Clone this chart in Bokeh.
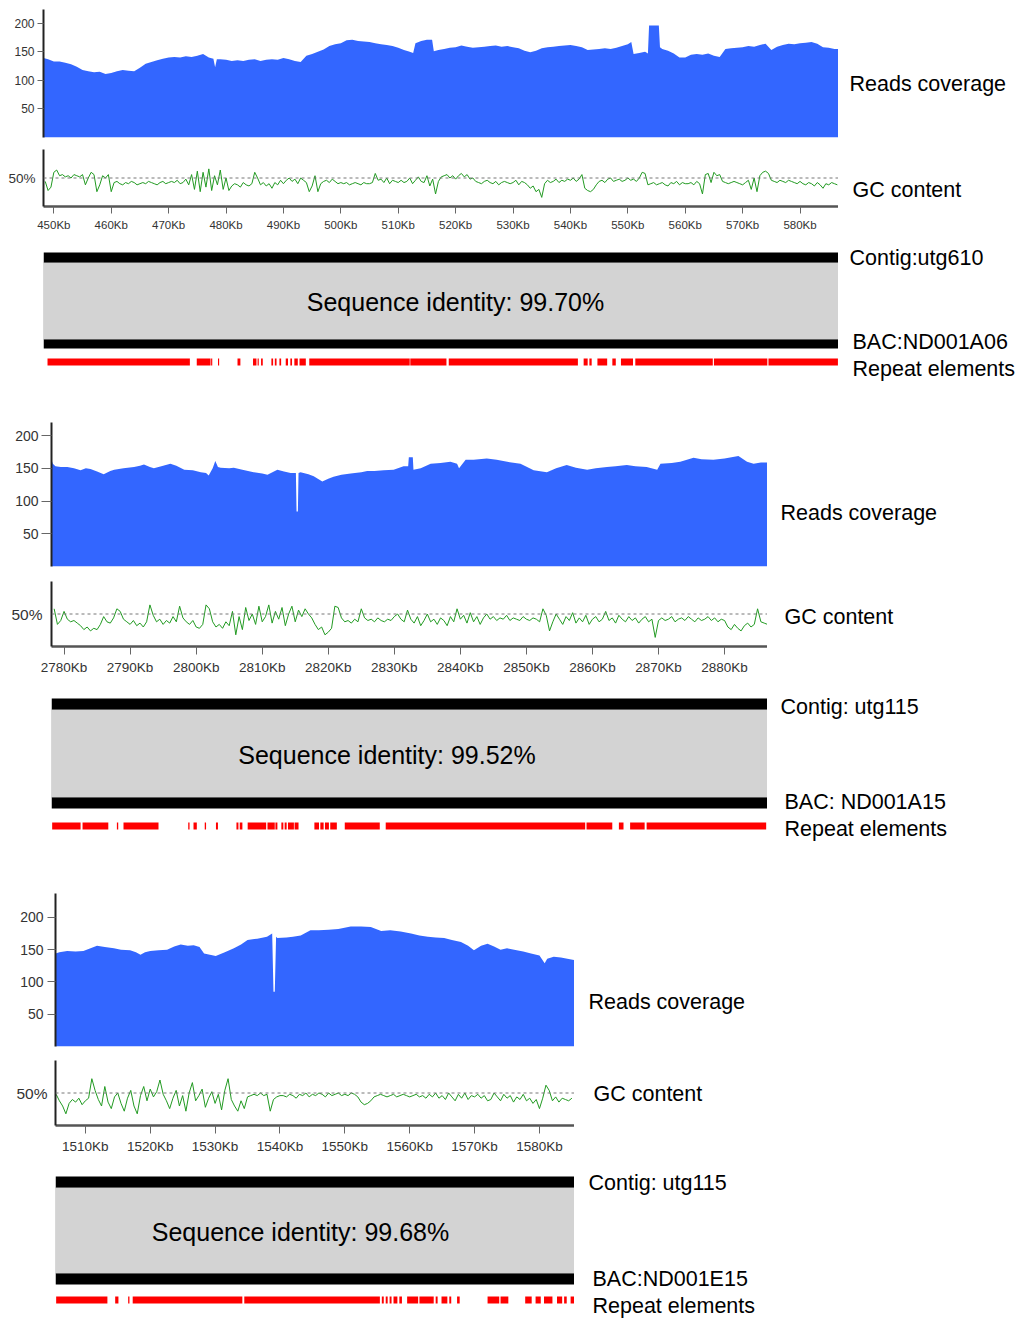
import numpy as np
from bokeh.plotting import figure
from bokeh.layouts import column, row
from bokeh.models import Range1d, FixedTicker, Span, Label
from bokeh.embed import file_html
from bokeh.resources import INLINE

FONT = "Liberation Sans"
PAGE_W = 1019
COV_BLUE = "#3366ff"
GC_GREEN = "#229a22"
REPEAT_RED = "#ff0000"
BLOCK_GREY = "#d3d3d3"

cov_ticks = [50, 100, 150, 200]

# ---------------------------------------------------------------------------
# Region 1: contig utg610 against BAC ND001A06 (positions in Kb)
# ---------------------------------------------------------------------------
cov1_kb = [448.2, 449, 450, 451, 452, 453, 454, 455, 456, 457,
           458, 459, 460, 461, 462, 463, 464, 465, 466, 467,
           468, 469, 470, 471, 472, 473, 474, 475, 476, 477,
           477.8, 478.1, 478.4, 479, 480, 481, 482, 483, 484, 485,
           486, 487, 488, 489, 490, 491, 492, 493, 494, 495,
           496, 497, 498, 499, 500, 501, 502, 503, 504, 505,
           506, 507, 508, 509, 510, 511, 512, 512.6, 513, 514,
           515, 515.9, 516.2, 517, 518, 519, 520, 521, 522, 523,
           524, 525, 526, 527, 528, 529, 530, 531, 532, 533,
           534, 535, 536, 537, 538, 539, 540, 541, 542, 543,
           544, 545, 546, 547, 548, 549, 550, 550.6, 551, 552,
           553, 553.5, 553.7, 555.4, 555.6, 556, 557, 558, 559, 560,
           561, 562, 563, 564, 565, 566, 567, 568, 569, 570,
           571, 572, 573, 574, 575, 576, 577, 578, 579, 580,
           581, 582, 583, 584, 585, 586, 586.7]
cov1_depth = [139, 137, 133, 133, 131, 128, 124, 118, 116, 114,
              115, 111, 113, 116, 118, 117, 116, 122, 129, 132,
              135, 138, 140, 141, 140, 142, 141, 143, 146, 140,
              138, 123, 137, 137, 136, 134, 135, 134, 136, 137,
              134, 136, 137, 136, 139, 137, 134, 132, 143, 146,
              150, 154, 160, 163, 165, 170, 171, 169, 168, 167,
              165, 163, 162, 160, 157, 153, 150, 148, 165, 169,
              171, 171, 151, 153, 155, 157, 158, 161, 159, 157,
              158, 159, 160, 161, 159, 160, 158, 156, 152, 149,
              152, 156, 158, 159, 160, 161, 162, 160, 158, 153,
              154, 155, 156, 155, 157, 160, 163, 167, 146, 148,
              150, 147, 196, 196, 158, 155, 152, 147, 140, 140,
              145, 146, 145, 147, 143, 141, 155, 156, 157, 158,
              160, 159, 162, 164, 153, 159, 162, 164, 163, 165,
              166, 167, 164, 158, 157, 155, 155]

gc1_first_kb, gc1_window_kb = 448.5, 0.5
gc1_pct = [47, 39, 42, 55,
           57, 52, 53, 51, 52, 50, 53, 52, 51, 53, 44, 50, 55, 53, 38, 44, 52, 50, 53, 38,
           46, 47, 45, 44, 46, 45, 47, 46, 44, 45, 46, 45, 47, 46, 45, 44, 46, 47, 45, 46,
           47, 46, 48, 45, 46, 49, 44, 53, 40, 56, 38, 55, 42, 58, 39, 52, 44, 57, 40, 50,
           39, 43, 45, 44, 42, 46, 44, 43, 45, 55, 50, 44, 46, 43, 45, 41, 46, 44, 48, 45,
           48, 50, 47, 49, 45, 50, 48, 46, 38, 43, 52, 38, 45, 47, 48, 46, 49, 47, 45, 46,
           45, 46, 44, 45, 46, 45, 44, 46, 45, 45, 46, 54, 48, 49, 46, 50, 45, 48, 47, 46,
           48, 46, 47, 50, 45, 48, 51, 47, 46, 52, 43, 49, 36, 47, 51, 52, 53, 50, 52, 49,
           52, 54, 51, 53, 49, 50, 47, 46, 45, 47, 48, 46, 45, 47, 44, 46, 47, 46, 45, 46,
           48, 44, 47, 46, 44, 41, 43, 38, 40, 33, 45, 48, 46, 47, 49, 46, 48, 47, 49, 48,
           50, 47, 49, 53, 41, 39, 38, 40, 44, 47, 48, 46, 49, 50, 47, 48, 49, 47, 48, 50,
           48, 49, 47, 50, 55, 54, 44, 45, 46, 44, 45, 46, 44, 43, 46, 45, 47, 44, 46, 45,
           45, 46, 44, 47, 45, 36, 53, 54, 46, 55, 52, 53, 47, 46, 45, 46, 47, 46, 45, 44,
           46, 48, 40, 50, 38, 52, 55, 56, 54, 48, 47, 46, 48, 47, 46, 48, 47, 46, 45, 47,
           45, 44, 46, 45, 43, 46, 44, 41, 45, 44, 46, 45, 44]

ticks1_kb = [450, 460, 470, 480, 490, 500, 510, 520, 530, 540, 550, 560, 570, 580]
ticks1_lbl = ["450Kb", "460Kb", "470Kb", "480Kb", "490Kb", "500Kb", "510Kb",
              "520Kb", "530Kb", "540Kb", "550Kb", "560Kb", "570Kb", "580Kb"]

rep1_start = [448.9, 474.9, 477.4, 478.6, 482.0, 484.7, 485.5, 486.1, 487.9, 488.5,
              489.3, 490.4, 491.2, 491.9, 492.8, 494.5, 512.1, 518.8, 542.3, 543.3,
              544.7, 547.3, 548.8, 551.3, 565.0, 574.5]
rep1_end = [473.7, 477.3, 477.6, 478.8, 482.5, 485.3, 485.7, 486.4, 488.2, 488.8,
            489.6, 490.8, 491.5, 492.5, 493.9, 512.0, 518.4, 541.3, 543.0, 543.7,
            546.4, 547.9, 550.9, 564.8, 574.3, 586.6]

# ---------------------------------------------------------------------------
# Region 2: contig utg115 against BAC ND001A15
# ---------------------------------------------------------------------------
cov2_kb = [2778.1, 2778.3, 2778.7, 2779.5, 2780.5, 2781.5, 2782.5, 2783.3, 2784, 2785,
           2786, 2787, 2787.6, 2789, 2790.6, 2791.5, 2792.1, 2793, 2793.6, 2795,
           2796.1, 2797, 2798.2, 2799.5, 2800.7, 2801.5, 2801.9, 2802.5, 2802.9, 2803.3,
           2803.7, 2805, 2805.7, 2807, 2808.7, 2810, 2810.8, 2812.3, 2813.3, 2814.3,
           2815.1, 2815.2, 2815.4, 2815.5, 2815.8, 2817, 2817.8, 2819.1, 2820, 2820.8,
           2822, 2823.4, 2825, 2825.9, 2827, 2828.4, 2829.9, 2831.4, 2832.1, 2832.2,
           2832.8, 2832.9, 2834, 2835.5, 2837, 2838.5, 2839.5, 2839.8, 2840.8, 2842,
           2844, 2845.5, 2847.1, 2849.1, 2851.1, 2853.1, 2854.5, 2856.1, 2857.5, 2859.2,
           2860.5, 2862.2, 2863.5, 2865.2, 2866.5, 2868.2, 2869.8, 2870.3, 2872, 2873.3,
           2875.3, 2876.5, 2878.3, 2880, 2882.1, 2883.4, 2884.4, 2885.5, 2886.5]
cov2_depth = [163, 157, 153, 152, 152, 150, 147, 150, 149, 145,
              141, 146, 148, 150, 152, 154, 156, 152, 150, 154,
              157, 154, 148, 147, 144, 143, 139, 150, 161, 152,
              151, 150, 151, 148, 144, 142, 140, 148, 145, 143,
              143, 84, 84, 143, 144, 141, 138, 130, 134, 137,
              140, 142, 144, 146, 146, 147, 148, 153, 153, 167,
              167, 148, 150, 157, 158, 160, 157, 150, 163, 163,
              165, 163, 160, 157, 147, 144, 150, 155, 151, 148,
              150, 152, 153, 155, 153, 152, 148, 157, 158, 160,
              166, 164, 163, 165, 169, 160, 157, 159, 159]

gc2_first_kb, gc2_window_kb = 2778.5, 0.5
gc2_pct = [54, 42, 45, 52,
           46, 44, 45, 43, 41, 38, 40, 37, 39, 38, 42, 48, 44, 43, 47, 54, 52, 46, 44, 42,
           45, 41, 43, 40, 44, 57, 49, 44, 46, 42, 45, 43, 48, 44, 56, 47, 44, 42, 45, 40,
           39, 42, 57, 54, 44, 40, 42, 39, 44, 41, 52, 34, 48, 38, 55, 45, 50, 42, 56, 44,
           48, 57, 43, 52, 46, 55, 41, 50, 56, 44, 53, 48, 54, 50, 47, 42, 38, 40, 34, 36,
           39, 56, 55, 47, 44, 45, 43, 46, 44, 54, 47, 45, 46, 44, 47, 45, 44, 46, 45, 48,
           50, 46, 44, 53, 46, 43, 48, 41, 45, 50, 44, 46, 42, 47, 45, 41, 48, 44, 54, 46,
           49, 43, 51, 44, 48, 42, 47, 50, 46, 48, 45, 47, 46, 49, 45, 47, 46, 45, 48, 46,
           45, 47, 46, 44, 54, 49, 37, 44, 50, 46, 42, 48, 45, 51, 43, 47, 44, 49, 42, 46,
           48, 44, 46, 52, 45, 47, 43, 49, 46, 44, 48, 45, 47, 43, 46, 48, 44, 46, 32, 45,
           47, 45, 46, 48, 44, 46, 47, 45, 48, 46, 44, 47, 45, 46, 48, 45, 47, 44, 46, 45,
           40, 38, 42, 39, 37, 41, 43, 40, 42, 54, 44, 43, 42]

ticks2_kb = [2780, 2790, 2800, 2810, 2820, 2830, 2840, 2850, 2860, 2870, 2880]
ticks2_lbl = ["2780Kb", "2790Kb", "2800Kb", "2810Kb", "2820Kb", "2830Kb",
              "2840Kb", "2850Kb", "2860Kb", "2870Kb", "2880Kb"]

rep2_start = [2778.2, 2782.8, 2788.0, 2789.0, 2798.8, 2799.6, 2801.3, 2803.0, 2806.1, 2806.6,
              2807.8, 2810.8, 2812.0, 2812.9, 2813.4, 2813.9, 2814.9, 2817.9, 2818.8, 2819.5,
              2820.3, 2822.5, 2828.7, 2859.1, 2864.0, 2865.7, 2868.2]
rep2_end = [2782.5, 2786.7, 2788.2, 2794.3, 2799.0, 2800.1, 2801.5, 2803.3, 2806.4, 2807.0,
            2810.6, 2811.9, 2812.3, 2813.2, 2813.7, 2814.8, 2815.5, 2818.6, 2819.3, 2820.1,
            2821.3, 2827.8, 2858.9, 2863.0, 2864.7, 2867.9, 2886.3]

# ---------------------------------------------------------------------------
# Region 3: contig utg115 against BAC ND001E15
# ---------------------------------------------------------------------------
cov3_kb = [1505.4, 1506, 1507.2, 1508.5, 1509.7, 1510.8, 1511.8, 1513, 1514.4, 1515.5,
           1516.9, 1517.8, 1518.5, 1519.2, 1520, 1521.3, 1522.6, 1523.7, 1524.7, 1525.8,
           1526.7, 1527.6, 1528.3, 1529.2, 1530.1, 1531.5, 1532.9, 1534, 1535, 1536.5,
           1538, 1538.8, 1539.0, 1539.2, 1539.4, 1539.6, 1541, 1542, 1543.2, 1544.7,
           1546, 1547.5, 1549, 1550.9, 1552.5, 1554, 1555.6, 1557, 1558.6, 1560.2,
           1561.5, 1562.8, 1564, 1565.3, 1566.5, 1567.9, 1569, 1569.9, 1571, 1572,
           1573, 1574, 1575, 1576.1, 1577.5, 1578.7, 1580, 1580.8, 1581.2, 1582.2,
           1583.3, 1584.3, 1585.4]
cov3_depth = [144, 146, 148, 147, 148, 152, 156, 154, 152, 150,
              149, 146, 142, 146, 148, 149, 150, 155, 158, 156,
              157, 154, 144, 142, 140, 146, 152, 158, 165, 167,
              170, 175, 85, 85, 170, 168, 169, 170, 172, 180,
              180, 181, 182, 186, 186, 185, 179, 180, 178, 175,
              172, 170, 169, 168, 165, 162, 156, 149, 156, 159,
              155, 150, 152, 150, 147, 144, 141, 129, 136, 139,
              138, 136, 134]

gc3_first_kb, gc3_window_kb = 1505.5, 0.5
gc3_pct = [49, 44, 40, 34, 42, 45, 43, 46, 41, 44,
           46, 61, 52, 45, 40, 55, 43, 38, 47, 50, 42, 36, 46, 52, 40, 34, 48, 55, 44, 53,
           47, 51, 60, 49, 44, 38, 46, 52, 40, 48, 36, 50, 58, 44, 48, 53, 39, 46, 51, 42,
           49, 37, 52, 61, 45, 40, 36, 44, 38, 47, 48, 49, 48, 50, 48, 49, 36, 45, 47, 48,
           48, 47, 49, 48, 46, 49, 48, 50, 47, 49, 48, 50, 49, 47, 50, 48, 49, 50, 48, 49,
           48, 50, 49, 47, 43, 41, 42, 44, 47, 48, 49, 48, 47, 48, 49, 47, 48, 49, 48, 47,
           48, 49, 47, 48, 46, 49, 47, 50, 46, 48, 45, 50, 47, 44, 49, 46, 50, 45, 48, 47,
           49, 46, 48, 44, 45, 50, 47, 44, 49, 46, 48, 43, 47, 45, 49, 44, 46, 42, 45, 38,
           46, 56, 52, 44, 47, 43, 46, 45, 44, 46]

ticks3_kb = [1510, 1520, 1530, 1540, 1550, 1560, 1570, 1580]
ticks3_lbl = ["1510Kb", "1520Kb", "1530Kb", "1540Kb", "1550Kb", "1560Kb", "1570Kb", "1580Kb"]

rep3_start = [1505.5, 1514.6, 1516.6, 1517.3, 1534.5, 1555.7, 1556.3, 1556.9, 1557.5, 1558.4,
              1559.6, 1561.5, 1564.0, 1564.9, 1566.1, 1567.3, 1572.0, 1574.0, 1577.8, 1579.4,
              1580.7, 1582.7, 1583.8, 1584.8]
rep3_end = [1513.4, 1515.1, 1516.8, 1534.2, 1555.4, 1556.0, 1556.6, 1557.2, 1558.1, 1558.8,
            1561.3, 1563.7, 1564.3, 1565.8, 1566.4, 1567.7, 1573.8, 1575.2, 1578.8, 1580.2,
            1582.0, 1583.5, 1584.2, 1585.4]

# ---------------------------------------------------------------------------
# page geometry of the three stacked regions (pixels from the page top-left)
# ---------------------------------------------------------------------------
regions = [
    dict(left=43, right=838, x_start=448.2, x_end=586.7,
         cov_px=(0, 9, 137, 143), cov_max=224, cov_tick=(6, 3, "12px"),
         gc_px=(143, 149, 206, 240), gc_ylab=(8, "13.5px"), gc_xtick=(7, 5, "11.5px"),
         aln_px=(240, 400), contig_px=(252, 262), block_px=(262, 339), bac_px=(339, 348),
         rep_px=(358, 365), ident_xy=(455, 301),
         lbl_cov=(849, 83), lbl_gc=(852, 189), lbl_contig=(849, 257), lbl_bac=(852, 341),
         lbl_rep=(852, 368)),
    dict(left=51, right=767, x_start=2778.1, x_end=2886.5,
         cov_px=(400, 422, 566, 574), cov_max=220, cov_tick=(10, 3, "14px"),
         gc_px=(574, 581, 646, 680), gc_ylab=(9, "15.5px"), gc_xtick=(8, 5, "13.5px"),
         aln_px=(680, 860), contig_px=(698, 709), block_px=(709, 797), bac_px=(797, 808),
         rep_px=(822, 829), ident_xy=(386.5, 754),
         lbl_cov=(780, 512), lbl_gc=(784, 616), lbl_contig=(780, 706), lbl_bac=(784, 801),
         lbl_rep=(784, 828)),
    dict(left=55, right=574, x_start=1505.4, x_end=1585.4,
         cov_px=(860, 893, 1046, 1053), cov_max=237, cov_tick=(8, 4, "14px"),
         gc_px=(1053, 1060, 1125, 1160), gc_ylab=(8, "15.5px"), gc_xtick=(8, 5, "13.5px"),
         aln_px=(1160, 1318), contig_px=(1176, 1187), block_px=(1187, 1273), bac_px=(1273, 1284),
         rep_px=(1296, 1303), ident_xy=(300, 1231),
         lbl_cov=(588, 1001), lbl_gc=(593, 1093), lbl_contig=(588, 1182), lbl_bac=(592, 1278),
         lbl_rep=(592, 1305)),
]

datasets = [
    dict(cov_kb=cov1_kb, cov=cov1_depth, gc_first=gc1_first_kb, gc_win=gc1_window_kb, gc=gc1_pct,
         ticks=ticks1_kb, tick_lbl=ticks1_lbl, rep_s=rep1_start, rep_e=rep1_end,
         ident="Sequence identity: 99.70%", contig="Contig:utg610", bac="BAC:ND001A06"),
    dict(cov_kb=cov2_kb, cov=cov2_depth, gc_first=gc2_first_kb, gc_win=gc2_window_kb, gc=gc2_pct,
         ticks=ticks2_kb, tick_lbl=ticks2_lbl, rep_s=rep2_start, rep_e=rep2_end,
         ident="Sequence identity: 99.52%", contig="Contig: utg115", bac="BAC: ND001A15"),
    dict(cov_kb=cov3_kb, cov=cov3_depth, gc_first=gc3_first_kb, gc_win=gc3_window_kb, gc=gc3_pct,
         ticks=ticks3_kb, tick_lbl=ticks3_lbl, rep_s=rep3_start, rep_e=rep3_end,
         ident="Sequence identity: 99.68%", contig="Contig: utg115", bac="BAC:ND001E15"),
]


def bare(p):
    p.outline_line_color = None
    p.grid.visible = False
    p.background_fill_color = "white"
    p.border_fill_color = "white"
    return p


def text_at(p, text, x, y, size="21.5px", align="left"):
    p.add_layout(Label(x=x, y=y, text=text, text_font=FONT, text_font_size=size,
                       text_color="black", text_align=align, text_baseline="middle"))


def caption_panel(R, top, ftop, fbot, bot):
    """Figure to the right of a track whose data space is page pixels."""
    return bare(figure(width=PAGE_W - R, height=bot - top,
                       x_range=Range1d(R, PAGE_W), y_range=Range1d(fbot, ftop),
                       output_backend="svg", toolbar_location=None,
                       x_axis_location=None, y_axis_location=None,
                       min_border_left=0, min_border_right=0,
                       min_border_top=ftop - top, min_border_bottom=bot - fbot))


def style_axis(ax, tick_out, standoff, size, line_color, line_width):
    ax.axis_line_width = line_width
    ax.axis_line_color = line_color
    ax.major_tick_line_color = "#666666"
    ax.major_tick_out = tick_out
    ax.major_tick_in = 0
    ax.minor_tick_line_color = None
    ax.major_label_standoff = standoff
    ax.major_label_text_font = FONT
    ax.major_label_text_font_size = size
    ax.major_label_text_color = "#333333"


def build_region(g, d):
    L, R = g["left"], g["right"]
    x0, x1 = g["x_start"], g["x_end"]
    parts = []

    # --- read coverage track ---
    top, ftop, fbot, bot = g["cov_px"]
    cov = bare(figure(width=R, height=bot - top, x_range=Range1d(x0, x1),
                      y_range=Range1d(0, g["cov_max"]), output_backend="svg",
                      toolbar_location=None, x_axis_location=None,
                      min_border_left=L, min_border_right=0,
                      min_border_top=ftop - top, min_border_bottom=bot - fbot))
    cov.varea(x=d["cov_kb"], y1=0, y2=d["cov"], fill_color=COV_BLUE)
    ax = cov.yaxis[0]
    ax.ticker = FixedTicker(ticks=cov_ticks)
    t_out, t_std, t_fs = g["cov_tick"]
    style_axis(ax, t_out, t_std, t_fs, "#222222", 2)
    cap = caption_panel(R, top, ftop, fbot, bot)
    text_at(cap, "Reads coverage", *g["lbl_cov"])
    parts.append(row(cov, cap))

    # --- GC content track ---
    top, ftop, fbot, bot = g["gc_px"]
    gc = bare(figure(width=R, height=bot - top, x_range=Range1d(x0, x1),
                     y_range=Range1d(25, 75), output_backend="svg", toolbar_location=None,
                     min_border_left=L, min_border_right=0,
                     min_border_top=ftop - top, min_border_bottom=bot - fbot))
    gc.add_layout(Span(location=50, dimension="width", line_color="#777777",
                       line_dash="3 3", line_width=1))
    gc_kb = d["gc_first"] + d["gc_win"] * np.arange(len(d["gc"]))
    gc.line(gc_kb, d["gc"], line_color=GC_GREEN, line_width=1)
    yax = gc.yaxis[0]
    yax.ticker = FixedTicker(ticks=[50])
    yax.major_label_overrides = {50: "50%"}
    y_std, y_fs = g["gc_ylab"]
    style_axis(yax, 0, y_std, y_fs, "#222222", 2)
    xax = gc.xaxis[0]
    xax.ticker = FixedTicker(ticks=d["ticks"])
    xax.major_label_overrides = dict(zip(d["ticks"], d["tick_lbl"]))
    x_out, x_std, x_fs = g["gc_xtick"]
    style_axis(xax, x_out, x_std, x_fs, "#555555", 2.5)
    cap = caption_panel(R, top, ftop, fbot, bot)
    text_at(cap, "GC content", *g["lbl_gc"])
    parts.append(row(gc, cap))

    # --- alignment block with repeat annotation (y in page pixels) ---
    atop, abot = g["aln_px"]
    aln = bare(figure(width=R, height=abot - atop, x_range=Range1d(x0, x1),
                      y_range=Range1d(abot, atop), output_backend="svg",
                      toolbar_location=None, x_axis_location=None, y_axis_location=None,
                      min_border_left=L, min_border_right=0,
                      min_border_top=0, min_border_bottom=0))
    b0, b1 = g["block_px"]
    aln.quad(left=x0, right=x1, top=b0, bottom=b1,
             fill_color=BLOCK_GREY, line_color="#bbbbbb", line_width=1)
    for c0, c1 in (g["contig_px"], g["bac_px"]):
        aln.quad(left=x0, right=x1, top=c0, bottom=c1, fill_color="black", line_color=None)
    r0, r1 = g["rep_px"]
    aln.quad(left=d["rep_s"], right=d["rep_e"], top=r0, bottom=r1,
             fill_color=REPEAT_RED, line_color=None)
    ix, iy = g["ident_xy"]
    aln.add_layout(Label(x=ix - L, y=iy, x_units="screen", y_units="data", text=d["ident"],
                         text_font=FONT, text_font_size="25px", text_color="black",
                         text_align="center", text_baseline="middle"))
    cap = caption_panel(R, atop, atop, abot, abot)
    text_at(cap, d["contig"], *g["lbl_contig"])
    text_at(cap, d["bac"], *g["lbl_bac"])
    text_at(cap, "Repeat elements", *g["lbl_rep"])
    parts.append(row(aln, cap))
    return parts


children = []
for g, d in zip(regions, datasets):
    children.extend(build_region(g, d))

page = column(*children, spacing=0)

open("out.html", "w").write(file_html(page, INLINE))
